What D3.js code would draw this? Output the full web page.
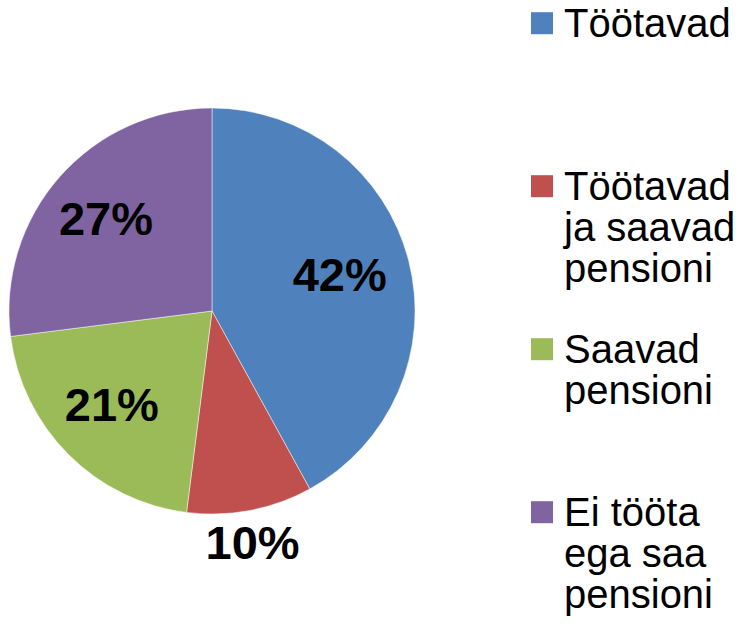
<!DOCTYPE html>
<html>
<head>
<meta charset="utf-8">
<script src="https://cdn.jsdelivr.net/npm/d3@7"></script>
<style>
  html, body { margin: 0; padding: 0; background: #fff; }
  svg { display: block; }
</style>
</head>
<body>
<div id="chart"></div>
<script>
// data
const categories = ["Töötavad", "Töötavad ja saavad pensioni", "Saavad pensioni", "Ei tööta ega saa pensioni"];
const legendLines = [["Töötavad"], ["Töötavad", "ja saavad", "pensioni"], ["Saavad", "pensioni"], ["Ei tööta", "ega saa", "pensioni"]];
const values = [42, 10, 21, 27];
const colors = ["#4F81BD", "#C0504D", "#9BBB59", "#8064A2"];

const width = 747, height = 632;
const cx = 212, cy = 311, radius = 203;

const svg = d3.select("#chart")
  .append("svg")
  .attr("width", width)
  .attr("height", height);

const pie = d3.pie().sort(null).value(d => d)(values);
const arc = d3.arc().innerRadius(0).outerRadius(radius);

const g = svg.append("g").attr("transform", `translate(${cx},${cy})`);

// slices
g.selectAll("path")
  .data(pie)
  .join("path")
  .attr("d", arc)
  .attr("fill", (d, i) => colors[i])
  .attr("stroke", "#fff")
  .attr("stroke-opacity", 0.6)
  .attr("stroke-width", 0.8);

// percent labels: inside for big slices, outside for the small one
const inner = d3.arc().innerRadius(136).outerRadius(136);
const outer = d3.arc().innerRadius(238).outerRadius(238);

g.selectAll("text.pct")
  .data(pie)
  .join("text")
  .attr("class", "pct")
  .attr("transform", d => {
    const c = (d.endAngle - d.startAngle) / (2 * Math.PI) < 0.15 ? outer.centroid(d) : inner.centroid(d);
    return `translate(${c[0] - 4},${c[1] + 14})`;
  })
  .attr("text-anchor", "middle")
  .attr("font-family", "Liberation Sans, Arial, sans-serif")
  .attr("font-weight", "bold")
  .attr("font-size", "47px")
  .attr("fill", "#000")
  .text(d => d.data + "%");

// legend
const ly = d3.scalePoint()
  .domain(categories)
  .range([36.7, 525.7]);

const legend = svg.append("g")
  .selectAll("g")
  .data(categories)
  .join("g")
  .attr("transform", d => `translate(531,${ly(d)})`);

legend.append("rect")
  .attr("x", 0)
  .attr("y", -24.5)
  .attr("width", 22)
  .attr("height", 22)
  .attr("fill", (d, i) => colors[i]);

legend.append("text")
  .attr("x", 33)
  .attr("font-family", "Liberation Sans, Arial, sans-serif")
  .attr("font-size", "40px")
  .attr("fill", "#000")
  .selectAll("tspan")
  .data((d, i) => legendLines[i])
  .join("tspan")
  .attr("x", 33)
  .attr("dy", (d, i) => i === 0 ? 0 : 41)
  .text(d => d);
</script>
</body>
</html>
